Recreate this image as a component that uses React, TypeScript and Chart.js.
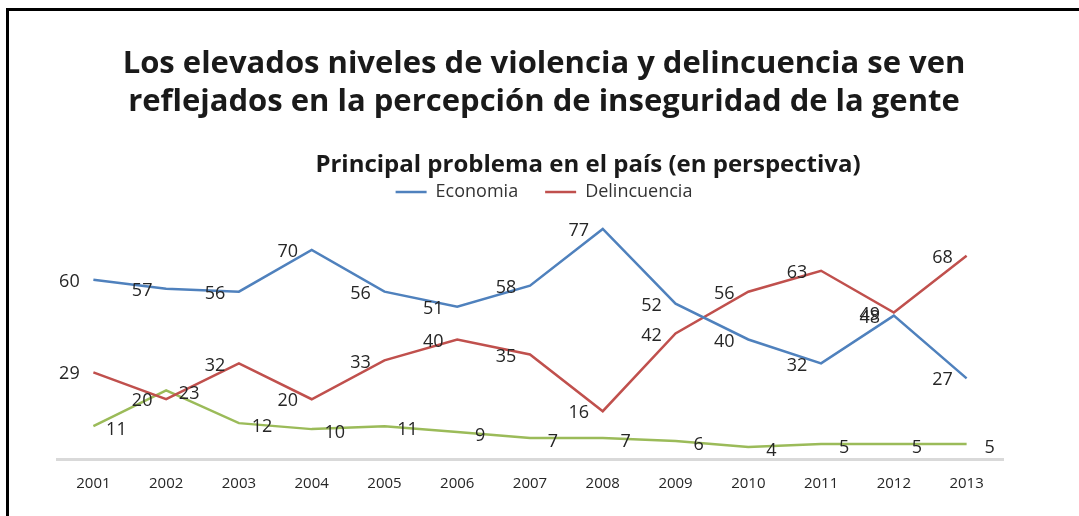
import React, { useEffect, useRef } from "react";
import { Chart, registerables } from "chart.js";
Chart.register(...registerables);

const years = ["2001", "2002", "2003", "2004", "2005", "2006", "2007", "2008", "2009", "2010", "2011", "2012", "2013"];
const economia = [60, 57, 56, 70, 56, 51, 58, 77, 52, 40, 32, 48, 27];
const delincuencia = [29, 20, 32, 20, 33, 40, 35, 16, 42, 56, 63, 49, 68];
const otros = [11, 23, 12, 10, 11, 9, 7, 7, 6, 4, 5, 5, 5];
const seriesNames = ["Economia", "Delincuencia", "Otros"];
const titleLines = [
  "Los elevados niveles de violencia y delincuencia se ven",
  "reflejados en la percepción de inseguridad de la gente",
];
const subtitleText = "Principal problema en el país (en perspectiva)";

const FONT = "'Open Sans'";

const valueLabels = {
  id: "valueLabels",
  afterDatasetsDraw(chart: any) {
    const ctx = chart.ctx;
    ctx.save();
    ctx.font = `18px ${FONT}`;
    ctx.fillStyle = "#262626";
    ctx.textAlign = "center";
    ctx.textBaseline = "middle";
    chart.data.datasets.forEach((ds: any, i: number) => {
      const meta = chart.getDatasetMeta(i);
      const dx = i === 2 ? 23 : -24;
      const dy = i === 2 ? 4 : 2;
      meta.data.forEach((pt: any, j: number) => {
        ctx.fillText(String(ds.data[j]), pt.x + dx, pt.y + dy);
      });
    });
    ctx.restore();
  },
};

const subtitleDraw = {
  id: "subtitleDraw",
  afterDraw(chart: any) {
    const ctx = chart.ctx;
    ctx.save();
    ctx.font = `bold 24px ${FONT}`;
    ctx.fillStyle = "#1a1a1a";
    ctx.textAlign = "center";
    ctx.textBaseline = "middle";
    ctx.fillText(subtitleText, chart.width / 2 + 44, 154);
    ctx.restore();
  },
};

export default function App() {
  const ref = useRef<HTMLCanvasElement | null>(null);
  useEffect(() => {
    if (!ref.current) return;
    const chart = new Chart(ref.current, {
      type: "line",
      data: {
        labels: years,
        datasets: [
          { label: seriesNames[0], data: economia, borderColor: "#4f81bd", backgroundColor: "#4f81bd" },
          { label: seriesNames[1], data: delincuencia, borderColor: "#c0504d", backgroundColor: "#c0504d" },
          { label: seriesNames[2], data: otros, borderColor: "#9bbb59", backgroundColor: "#9bbb59" },
        ].map((d) => ({ ...d, borderWidth: 2.5, pointRadius: 0, tension: 0, fill: false, clip: false })),
      },
      options: {
        animation: false,
        responsive: false,
        layout: { padding: { left: 0, right: 0, bottom: 7, top: 0 } },
        plugins: {
          title: {
            display: true,
            text: titleLines,
            color: "#1a1a1a",
            font: { family: FONT, size: 31, weight: "bold", lineHeight: 1.226 },
            padding: { top: 34, bottom: 35 },
          },
          subtitle: { display: false },
          legend: {
            display: true,
            position: "top",
            labels: {
              usePointStyle: true,
              pointStyle: "line",
              pointStyleWidth: 31,
              color: "#333",
              font: { family: FONT, size: 18 },
              padding: 27,
              filter: (item: any) => item.datasetIndex !== 2,
            },
          },
          tooltip: { enabled: false },
        },
        scales: {
          x: {
            offset: true,
            grid: { display: false, drawTicks: false },
            border: { display: true, color: "#d9d9d9", width: 3 },
            ticks: { color: "#262626", font: { family: FONT, size: 15 }, padding: 16 },
          },
          y: {
            display: true,
            position: "left",
            min: 0,
            max: 83,
            grid: { display: false, drawTicks: false },
            border: { display: false },
            ticks: { display: false },
            afterFit: (s: any) => {
              s.width = 48;
            },
          },
          yRight: {
            type: "linear",
            display: true,
            position: "right",
            min: 0,
            max: 83,
            grid: { display: false, drawTicks: false },
            border: { display: false },
            ticks: { display: false },
            afterFit: (s: any) => {
              s.width = 76;
            },
          },
        },
      },
      plugins: [valueLabels, subtitleDraw],
    } as any);
    return () => chart.destroy();
  }, []);
  return (
    <div
      style={{
        position: "fixed",
        left: 6,
        top: 8,
        width: 1073,
        height: 508,
        borderLeft: "3px solid #000",
        borderTop: "3px solid #000",
        background: "#fff",
        boxSizing: "border-box",
      }}
    >
      <canvas ref={ref} width={1070} height={505} style={{ display: "block" }} />
    </div>
  );
}
